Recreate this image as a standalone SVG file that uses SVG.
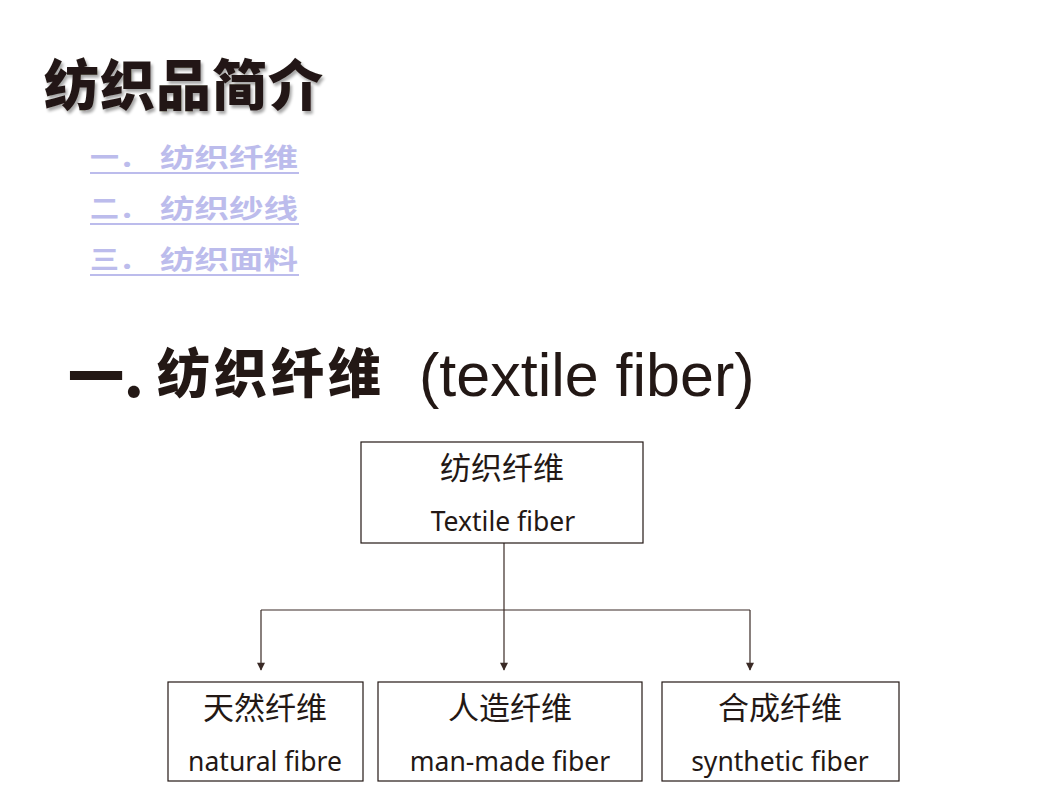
<svg xmlns="http://www.w3.org/2000/svg" width="1058" height="793" viewBox="0 0 1058 793">
<defs>
<style>
.cjk{font-family:"Noto Sans CJK SC","Liberation Sans",sans-serif;fill:#231815}
.lat{font-family:"Liberation Sans","Noto Sans CJK SC",sans-serif;fill:#231815}
.box{fill:#ffffff;stroke:#231815;stroke-width:1.2}
.menu{font-family:"Noto Sans CJK SC",sans-serif;font-weight:700;font-size:26px;fill:#bcbcec}
.ul{stroke:#bcbcec;stroke-width:2}
.conn{stroke:#3a2a26;stroke-width:1.2;fill:none}
.t1{font-size:31px;text-anchor:middle}
.t2{font-family:"Noto Sans","Open Sans",sans-serif;font-size:26.5px;text-anchor:middle;fill:#231815}
</style>
<marker id="arr" viewBox="0 0 10 10" refX="9" refY="5" markerWidth="10" markerHeight="8" markerUnits="userSpaceOnUse" orient="auto">
<path d="M0,0 L10,5 L0,10 z" fill="#3a2a26"/>
</marker>
<filter id="sh" x="-5%" y="-20%" width="110%" height="140%">
<feGaussianBlur in="SourceAlpha" stdDeviation="1.5"/>
<feOffset dx="2" dy="3" result="b"/>
<feComponentTransfer><feFuncA type="linear" slope="0.35"/></feComponentTransfer>
<feMerge><feMergeNode/><feMergeNode in="SourceGraphic"/></feMerge>
</filter>
</defs>
<rect width="1058" height="793" fill="#ffffff"/>
<g id="title">
<text x="44" y="105" class="cjk" font-size="55" font-weight="900" fill="#2a1815" filter="url(#sh)" letter-spacing="1">纺织品简介</text>
</g>
<g id="menu">
<text x="90" y="167" class="menu" textLength="58" lengthAdjust="spacingAndGlyphs">一．</text>
<text x="160" y="167" class="menu" textLength="138" lengthAdjust="spacingAndGlyphs">纺织纤维</text>
<line x1="90" y1="173" x2="299" y2="173" class="ul"/>
<text x="90" y="218" class="menu" textLength="58" lengthAdjust="spacingAndGlyphs">二．</text>
<text x="160" y="218" class="menu" textLength="138" lengthAdjust="spacingAndGlyphs">纺织纱线</text>
<line x1="90" y1="224" x2="299" y2="224" class="ul"/>
<text x="90" y="269" class="menu" textLength="58" lengthAdjust="spacingAndGlyphs">三．</text>
<text x="160" y="269" class="menu" textLength="138" lengthAdjust="spacingAndGlyphs">纺织面料</text>
<line x1="90" y1="275" x2="299" y2="275" class="ul"/>
</g>
<g id="heading">
<text x="68" y="397" class="cjk" font-size="56" font-weight="900">一.</text>
<text x="157" y="393" class="cjk" font-size="53" font-weight="900" letter-spacing="4">纺织纤维</text>
<text x="419" y="396" class="lat" font-size="61">(textile fiber)</text>
</g>
<g id="connectors">
<line x1="504" y1="543" x2="504" y2="670" class="conn" marker-end="url(#arr)"/>
<line x1="261" y1="610" x2="750" y2="610" class="conn"/>
<line x1="261" y1="610" x2="261" y2="670" class="conn" marker-end="url(#arr)"/>
<line x1="750" y1="610" x2="750" y2="670" class="conn" marker-end="url(#arr)"/>
</g>
<g id="node-root">
<rect x="361" y="442" width="282" height="101" class="box"/>
<text x="502" y="479" class="cjk t1">纺织纤维</text>
<text x="503" y="531" class="t2">Textile fiber</text>
</g>
<g id="node-natural">
<rect x="168" y="682" width="195" height="99" class="box"/>
<text x="265" y="719" class="cjk t1">天然纤维</text>
<text x="265" y="771" class="t2">natural fibre</text>
</g>
<g id="node-manmade">
<rect x="378" y="682" width="264" height="99" class="box"/>
<text x="510" y="719" class="cjk t1">人造纤维</text>
<text x="510" y="771" class="t2">man-made fiber</text>
</g>
<g id="node-synthetic">
<rect x="662" y="682" width="237" height="99" class="box"/>
<text x="780" y="719" class="cjk t1">合成纤维</text>
<text x="780" y="771" class="t2">synthetic fiber</text>
</g>
</svg>
